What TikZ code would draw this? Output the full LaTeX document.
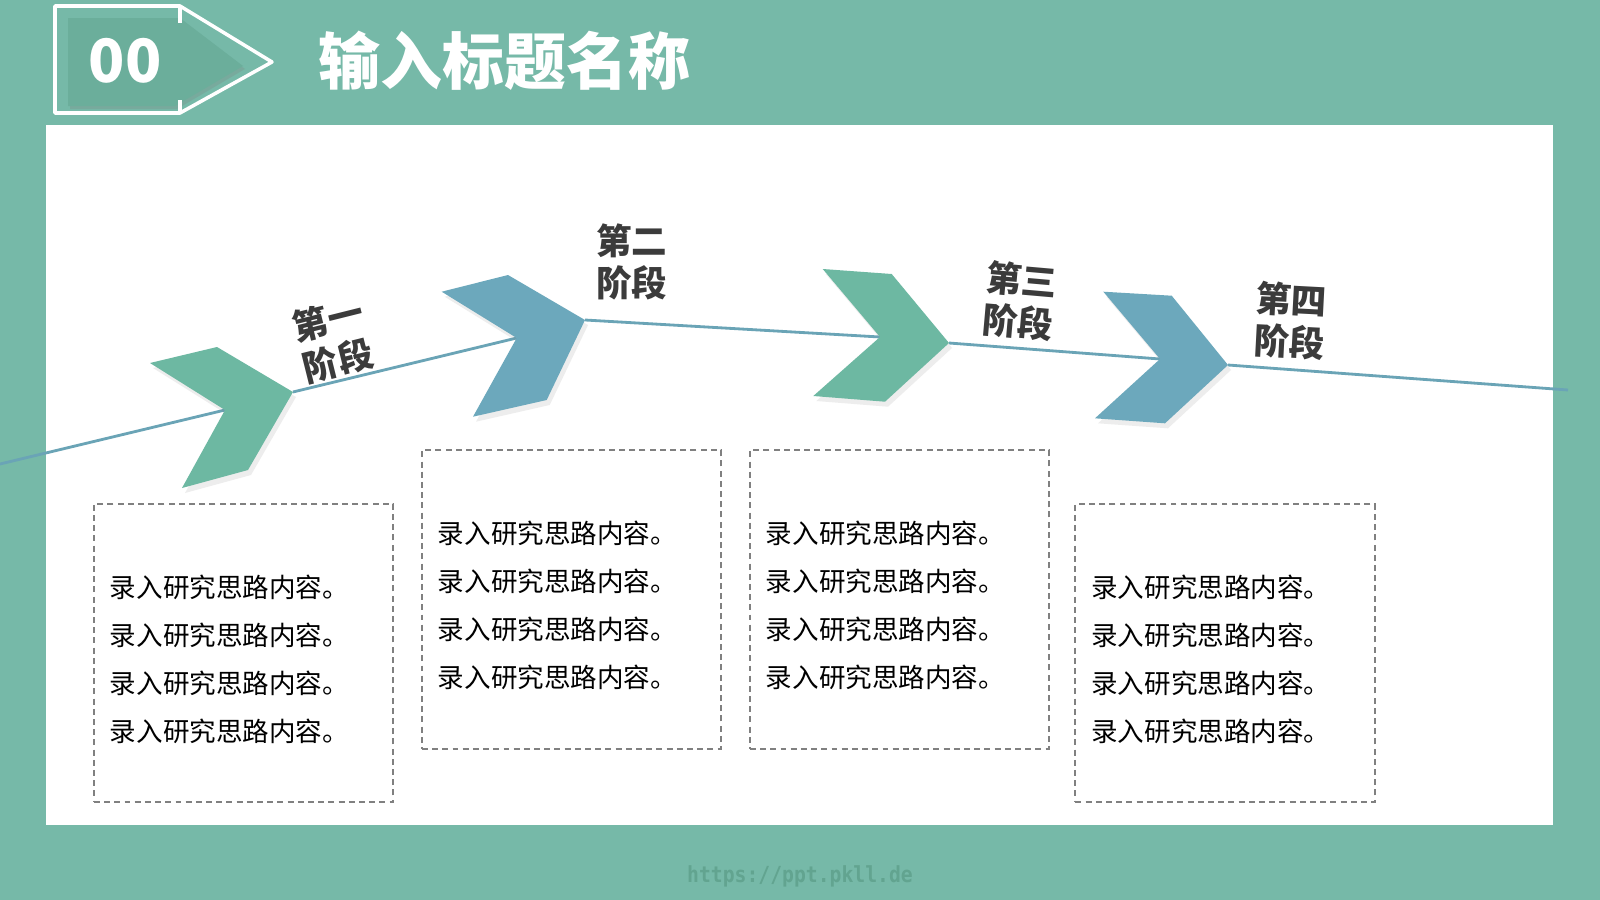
\documentclass[tikz,border=0pt]{standalone}
\usepackage{fontspec}
\setmainfont{Noto Sans CJK SC}
\newfontfamily\urlfont{DejaVu Sans Mono}
\usetikzlibrary{shadows}
\definecolor{bgteal}{HTML}{76B9A8}
\definecolor{badgeteal}{HTML}{6BAE9B}
\definecolor{stagegreen}{HTML}{6DB8A2}
\definecolor{stageblue}{HTML}{6CA8BC}
\definecolor{linecolor}{HTML}{6AA4B6}
\definecolor{labelgray}{HTML}{3B3B3B}
\definecolor{urlcolor}{HTML}{62A490}
\newcommand{\ideatext}{录入研究思路内容。\\录入研究思路内容。\\录入研究思路内容。\\录入研究思路内容。}

\begin{document}
\begin{tikzpicture}[x=0.01cm, y=-0.01cm,
    chev/.style={drop shadow={shadow xshift=0.03cm, shadow yshift=-0.05cm,
                 opacity=0.14}},
    chevgreen/.style={chev, fill=stagegreen},
    chevblue/.style={chev, fill=stageblue},
    timeline/.style={draw=linecolor, line width=0.8pt},
    notebox/.style={draw=gray, dash pattern=on 1.7pt off 1.2pt,
                    line width=0.6pt, minimum width=2.99cm,
                    minimum height=2.98cm, inner sep=0pt},
    notetext/.style={text width=2.67cm, align=left, inner sep=0pt,
                     font=\fontsize{7.55pt}{13.66pt}\selectfont},
    stage/.style={align=center, text=labelgray, inner sep=0pt,
                  font=\fontsize{10.1pt}{12pt}\selectfont\bfseries}
  ]
  \useasboundingbox (0,0) rectangle (1600,900);

  % Background and panel
  \fill[bgteal] (0,0) rectangle (1600,900);
  \fill[white] (46,124.5) rectangle (1553,824.5);

  % Title badge
  \fill[badgeteal, drop shadow={shadow xshift=0.02cm, shadow yshift=-0.03cm,
        opacity=0.25}]
    (68,18) -- (180,18) -- (243,66) -- (175,106) -- (68,106) -- cycle;
  \draw[white, line width=1pt, line join=round]
    (55,6) -- (180,6) -- (272,62) -- (180,113) -- (55,113) -- cycle;
  \draw[white, line width=1pt] (180,6) -- (180,23) (180,100) -- (180,113);
  \node[text=white, font=\fontsize{17pt}{18pt}\selectfont\bfseries]
    (num) at (125,61) {00};
  \node[text=white, font=\fontsize{17.6pt}{20pt}\selectfont\bfseries]
    (title) at (504.5,61) {输入标题名称};

  % Chevron tips and notches
  \coordinate (n1) at (225,410);   \coordinate (t1) at (293,392);
  \coordinate (n2) at (516.7,338); \coordinate (t2) at (585,320);
  \coordinate (n3) at (880,337);   \coordinate (t3) at (949,343);
  \coordinate (n4) at (1160,359);  \coordinate (t4) at (1228,365);
  \coordinate (lstart) at (0,464);
  \coordinate (lend) at (1568,390);

  % Timeline
  \draw[timeline] (lstart) -- (n1);
  \draw[timeline] (t1) -- (n2);
  \draw[timeline] (t2) -- (n3);
  \draw[timeline] (t3) -- (n4);
  \draw[timeline] (t4) -- (lend);

  % Chevrons
  \path[chevgreen] (150,363) -- (217,347) -- (t1) -- (248,470)
    -- (182,488) -- (n1) -- cycle;
  \path[chevblue] (441.7,291.7) -- (508,275) -- (t2) -- (546.7,400)
    -- (473,416.7) -- (n2) -- cycle;
  \path[chevgreen] (822.7,269) -- (891.7,274) -- (t3) -- (885,401.7)
    -- (813.3,396) -- (n3) -- cycle;
  \path[chevblue] (1103.3,291.7) -- (1171.7,295.7) -- (t4) -- (1165,423.3)
    -- (1095,418.3) -- (n4) -- cycle;

  % Stage labels
  \node[stage, rotate=14] (lab1) at (333,340) {第一\\阶段};
  \node[stage] (lab2) at (631.7,262) {第二\\阶段};
  \node[stage, rotate=-5] (lab3) at (1020,301) {第三\\阶段};
  \node[stage, rotate=-3] (lab4) at (1290.5,321) {第四\\阶段};

  % Note boxes
  \node[notebox] (box1) at (243.5,653) {};
  \node[notebox] (box2) at (571.5,599.5) {};
  \node[notebox] (box3) at (899.5,599.5) {};
  \node[notebox] (box4) at (1225,653) {};
  \node[notetext, yshift=-0.06cm] (text1) at (box1.center) {\ideatext};
  \node[notetext, yshift=-0.06cm] (text2) at (box2.center) {\ideatext};
  \node[notetext, yshift=-0.06cm] (text3) at (box3.center) {\ideatext};
  \node[notetext, yshift=-0.06cm] (text4) at (box4.center) {\ideatext};

  % Footer
  \node[text=urlcolor, font=\urlfont\bfseries\fontsize{6.3pt}{7pt}\selectfont]
    (url) at (800,876) {\scalebox{0.89}[1]{https://ppt.pkll.de}};
\end{tikzpicture}
\end{document}
